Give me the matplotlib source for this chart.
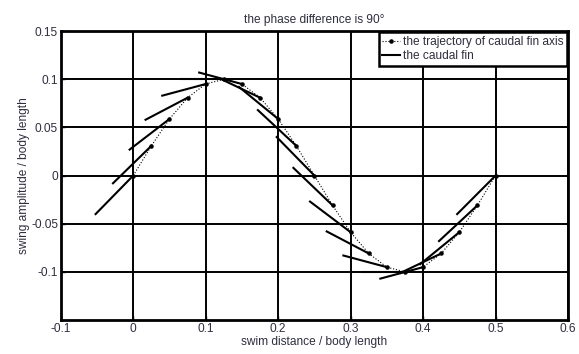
import matplotlib.pyplot as plt
import numpy as np

# trajectory of the caudal fin axis
x_traj = [0, 0.025, 0.05, 0.075, 0.1, 0.125, 0.15, 0.175, 0.2, 0.225, 0.25,
          0.275, 0.3, 0.325, 0.35, 0.375, 0.4, 0.425, 0.45, 0.475, 0.5]
y_traj = [0, 0.0309, 0.0588, 0.0809, 0.0951, 0.1, 0.0951, 0.0809, 0.0588, 0.0309, 0,
          -0.0309, -0.0588, -0.0809, -0.0951, -0.1, -0.0951, -0.0809, -0.0588, -0.0309, 0]

# other end of each fin segment
x_tail = [-0.052, -0.028, -0.005, 0.017, 0.040, 0.066, 0.091, 0.119, 0.146, 0.172, 0.198,
          0.221, 0.244, 0.267, 0.290, 0.316, 0.341, 0.369, 0.396, 0.422, 0.447]
y_tail = [-0.040, -0.008, 0.027, 0.058, 0.083, 0.100, 0.107, 0.101, 0.092, 0.068, 0.040,
          0.008, -0.027, -0.058, -0.083, -0.100, -0.107, -0.101, -0.092, -0.068, -0.040]

x_ticks = [-0.1, 0, 0.1, 0.2, 0.3, 0.4, 0.5, 0.6]
x_labels = ['-0.1', '0', '0.1', '0.2', '0.3', '0.4', '0.5', '0.6']
y_ticks = [-0.1, -0.05, 0, 0.05, 0.1, 0.15]
y_labels = ['-0.1', '-0.05', '0', '0.05', '0.1', '0.15']

plt.rcParams['font.family'] = ['Liberation Sans', 'DejaVu Sans']
txt = '#2e2e3e'
fs = 8.6

fig = plt.figure(figsize=(5.79, 3.54), dpi=100)
ax = fig.add_axes([0.105, 0.096, 0.876, 0.816])

# fin segments
for i in range(len(x_traj)):
    ax.plot([x_tail[i], x_traj[i]], [y_tail[i], y_traj[i]], color='black', linewidth=1.5,
            label='the caudal fin' if i == 0 else None, zorder=3)

# trajectory
ax.plot(x_traj, y_traj, color='black', linestyle=':', linewidth=0.8, marker='.',
        markersize=4.5, label='the trajectory of caudal fin axis', zorder=4)

ax.set_xlim(-0.1, 0.6)
ax.set_ylim(-0.15, 0.15)
ax.set_xticks(x_ticks)
ax.set_xticklabels(x_labels, fontsize=fs, color=txt)
ax.set_yticks(y_ticks)
ax.set_yticklabels(y_labels, fontsize=fs, color=txt)
ax.tick_params(direction='in', length=3, width=1, pad=2)
ax.grid(True, color='black', linewidth=1.4)
ax.set_axisbelow(True)
for s in ax.spines.values():
    s.set_linewidth(2)

ax.set_xlabel('swim distance / body length', fontsize=fs, color=txt, labelpad=1)
ax.set_ylabel('swing amplitude / body length', fontsize=fs, color=txt, labelpad=1)
ax.set_title('the phase difference is 90°', fontsize=fs, color=txt, pad=6)

handles, labels = ax.get_legend_handles_labels()
leg = ax.legend(handles[::-1], labels[::-1], loc='upper right', fontsize=fs,
                fancybox=False, framealpha=1, edgecolor='black', borderaxespad=0.1,
                handlelength=1.5, handletextpad=0.2, borderpad=0.3, labelspacing=0.2)
leg.get_frame().set_linewidth(1.8)
for t in leg.get_texts():
    t.set_color(txt)

fig.savefig('out.png', dpi=100)
